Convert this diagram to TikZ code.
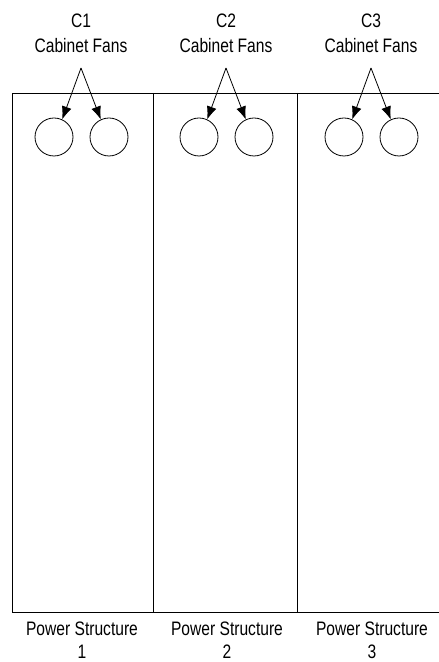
\documentclass[tikz,border=0pt]{standalone}
\usepackage{fontspec}
\setmainfont{Liberation Sans}[FakeStretch=0.8]
\usetikzlibrary{arrows.meta}
\begin{document}
\begin{tikzpicture}[x=1pt,y=1pt,
  lbl/.style={font=\fontsize{19.5}{24}\selectfont, inner sep=0pt, anchor=base},
  fan/.style={draw, circle, minimum size=38pt, inner sep=0pt, line width=0.8pt},
  ptr/.style={line width=0.8pt, -{Latex[length=13pt,width=10pt]}}]
\useasboundingbox (0,0) rectangle (439,662);
\draw[line width=0.8pt] (439,569) -- (12,569) -- (12,50) -- (439,50);
\draw[line width=0.8pt] (153,569) -- (153,50);
\draw[line width=0.8pt] (297,569) -- (297,50);
\foreach \i/\ox in {1/0,2/145,3/290}{
  \node[lbl] (c\i) at (81+\ox,634) {C\i};
  \node[lbl] (t\i) at (81+\ox,609) {Cabinet Fans};
  \coordinate (a\i) at (81+\ox,594);
  \node[fan] (fl\i) at (54+\ox,525) {};
  \node[fan] (fr\i) at (109+\ox,525) {};
  \draw[ptr] (a\i) -- (fl\i.65);
  \draw[ptr] (a\i) -- (fr\i.115);
  \node[lbl] (p\i) at (82+\ox,27) {Power Structure};
  \node[lbl] (n\i) at (82+\ox,3) {\i};
}
\end{tikzpicture}
\end{document}
